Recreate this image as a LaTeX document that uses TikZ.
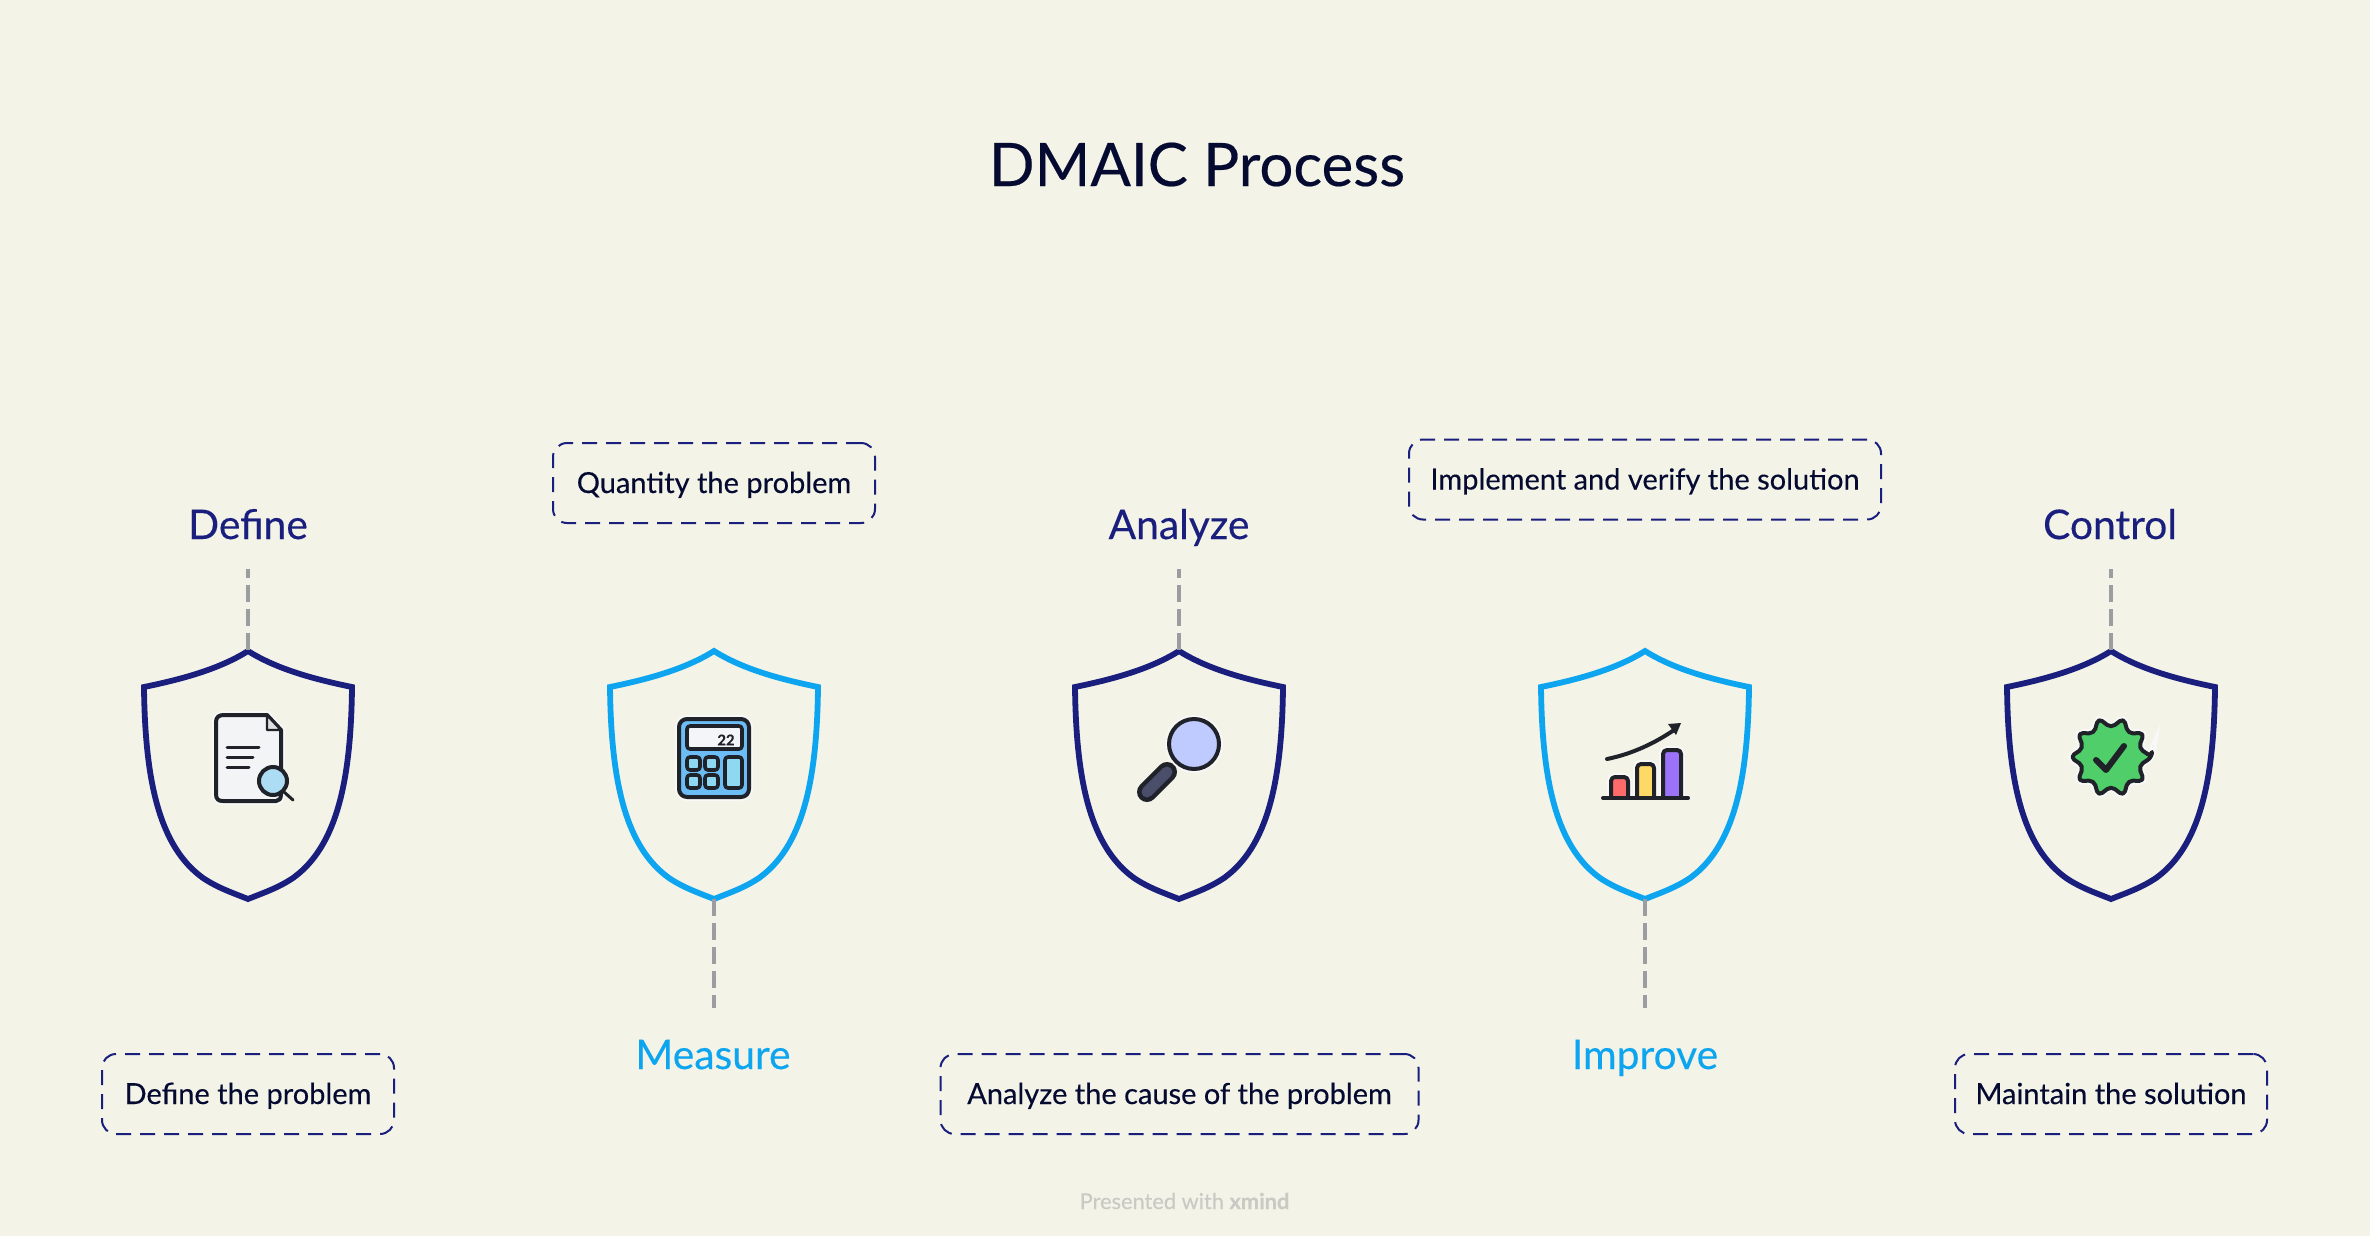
\documentclass[tikz,border=0pt]{standalone}
\usepackage{fontspec}
\setmainfont[FakeBold=0.3]{Lato}
\usetikzlibrary{arrows.meta}
\definecolor{bgc}{HTML}{F3F3E8}
\definecolor{navy}{HTML}{1A1F7E}
\definecolor{sky}{HTML}{0EA5F0}
\definecolor{ink}{HTML}{050A30}
\definecolor{dark}{HTML}{1F2229}
\definecolor{gline}{HTML}{9C9DA1}
\definecolor{docfill}{HTML}{F3F4F6}
\definecolor{foldc}{HTML}{DDDFE0}
\definecolor{glass}{HTML}{ADDCF5}
\definecolor{calcblue}{HTML}{6CBCF5}
\definecolor{calclight}{HTML}{8FD8F2}
\definecolor{screenc}{HTML}{F4F5F8}
\definecolor{handlec}{HTML}{4A4E6A}
\definecolor{lens}{HTML}{BFCBFF}
\definecolor{barred}{HTML}{FF6B6B}
\definecolor{baryel}{HTML}{FFD966}
\definecolor{barpur}{HTML}{9B72F8}
\definecolor{badge}{HTML}{4FCE6A}
\definecolor{foot}{HTML}{C9CAC4}
\definecolor{haloc}{HTML}{F8F9F7}
\tikzset{
  x=0.5pt,y=-0.5pt,
  shieldline/.style={line width=2.9pt,line join=miter,fill=none},
  head/.style={font=\fontsize{20.4}{24}\selectfont,inner sep=0pt,anchor=base},
  note/.style={draw=navy,line width=1pt,dash pattern=on 7.5pt off 4.5pt,rounded corners=7pt,minimum height=40pt,inner sep=0pt,text=ink,text height=13pt,text depth=3pt,font=\fontsize{14.5}{17}\selectfont},
  link/.style={draw=gline,line width=2.3pt,dash pattern=on 8.5pt off 3.5pt},
  ico/.style={draw=dark,line width=2pt,line join=round,line cap=round},
  halo/.style={preaction={draw=haloc,line width=4pt}},
  pics/shield/.style={code={
    \draw[shieldline,draw=#1] (0,-112) .. controls (-30,-93) and (-70,-83) .. (-104,-76)
      .. controls (-103,20) and (-88,84) .. (-45,115) .. controls (-30,125) and (-15,130) .. (0,136)
      .. controls (15,130) and (30,125) .. (45,115) .. controls (88,84) and (103,20) .. (104,-76)
      .. controls (70,-83) and (30,-93) .. (0,-112) -- cycle;
  }}
}
\begin{document}
\begin{tikzpicture}
\useasboundingbox[fill=bgc] (0,0) rectangle (2370,1236);
\node[font=\fontsize{30}{36}\selectfont,text=ink,inner sep=0pt,anchor=base] (title) at (1197,186) {DMAIC Process};
\node[font=\fontsize{10.9}{12}\selectfont,text=foot,inner sep=0pt,anchor=base] (footer) at (1184.5,1209) {Presented with \textbf{xmind}};

% shields
\path (248,763) pic {shield=navy} (714,763) pic {shield=sky} (1179,763) pic {shield=navy} (1645,763) pic {shield=sky} (2111,763) pic {shield=navy};
\coordinate (s1) at (248,650);
\coordinate (s2) at (714,899);
\coordinate (s3) at (1179,650);
\coordinate (s4) at (1645,899);
\coordinate (s5) at (2111,650);
\coordinate (e1) at (248,569);
\coordinate (e2) at (714,1008);
\coordinate (e3) at (1179,569);
\coordinate (e4) at (1645,1008);
\coordinate (e5) at (2111,569);
\foreach \i in {1,...,5} \draw[link] (s\i) -- (e\i);

% labels
\node[head,text=navy] (define) at (248,539) {Define};
\node[head,text=sky] (measure) at (713,1069) {Measure};
\node[head,text=navy] (analyze) at (1179,539) {Analyze};
\node[head,text=sky] (improve) at (1645,1069) {Improve};
\node[head,text=navy] (control) at (2110,539) {Control};

% notes
\node[note,minimum width=146pt] (n1) at (248,1094) {Define the problem};
\node[note,minimum width=161pt] (n2) at (714,483) {Quantity the problem};
\node[note,minimum width=239pt] (n3) at (1179.5,1094) {Analyze the cause of the problem};
\node[note,minimum width=236pt] (n4) at (1645,479.5) {Implement and verify the solution};
\node[note,minimum width=156pt] (n5) at (2111,1094) {Maintain the solution};

% document icon
\draw[ico,halo,fill=docfill] (224,715) -- (267,715) -- (281,730) -- (281,794) .. controls (281,799) and (279,801) .. (276,801) -- (223,801) .. controls (218,801) and (216,799) .. (216,794) -- (216,722) .. controls (216,717) and (219,715) .. (224,715) -- cycle;
\draw[ico,fill=foldc,line width=1.2pt] (267,715) -- (281,730) -- (267,730) -- cycle;
\draw[ico,line width=1.5pt] (227,747) -- (259,747) (227,757) -- (253,757) (227,767) -- (249,767);
\draw[ico,line width=1.5pt] (284,792) -- (293,800);
\draw[ico,fill=glass] (273,781) circle (14);

% calculator icon
\draw[ico,halo,fill=calcblue,rounded corners=4pt] (679,719) rectangle (749,797);
\draw[ico,fill=screenc,rounded corners=1.5pt,line width=1.8pt] (687,726) rectangle (742,749);
\node[font=\bfseries\fontsize{7.4}{8}\selectfont,text=dark,inner sep=0pt] (twotwo) at (726,740) {22};
\foreach \a/\b in {687/757,705/757,687/775,705/775} \draw[ico,fill=calclight,rounded corners=1.5pt,line width=1.8pt] (\a,\b) rectangle ++(13,13);
\draw[ico,fill=calclight,rounded corners=1.5pt,line width=1.8pt] (725,757) rectangle (742,788);

% magnifier icon
\draw[dark,line width=2.5pt] (1176,762) -- (1168,771);
\draw[dark,line width=10pt,line cap=round] (1167,772) -- (1147,792);
\draw[handlec,line width=5.5pt,line cap=round] (1167,772) -- (1147,792);
\draw[ico,halo,fill=lens] (1194,744) circle (25);

% chart icon
\draw[ico,halo,fill=barred,rounded corners=2pt] (1611,798) -- (1611,777) -- (1628,777) -- (1628,798);
\draw[ico,halo,fill=baryel,rounded corners=2pt] (1637,798) -- (1637,764) -- (1654,764) -- (1654,798);
\draw[ico,halo,fill=barpur,rounded corners=2pt] (1663,798) -- (1663,750) -- (1681,750) -- (1681,798);
\draw[ico] (1603,798) -- (1688,798);
\draw[ico] (1607,759) .. controls (1632,754) and (1655,743) .. (1674,730);
\fill[dark] (1668,724) -- (1681,723) -- (1676,735) -- cycle;

% badge icon
\draw[ico,halo,fill=badge,rounded corners=2.5pt,shift={(2111,757)}] (0:41) foreach \k in {0,...,9} { -- (18+36*\k:29) -- (36+36*\k:41)} -- cycle;
\draw[dark,line width=3pt,line cap=round,line join=round] (2096,760) -- (2106,770) -- (2124,746);
\end{tikzpicture}
\end{document}
